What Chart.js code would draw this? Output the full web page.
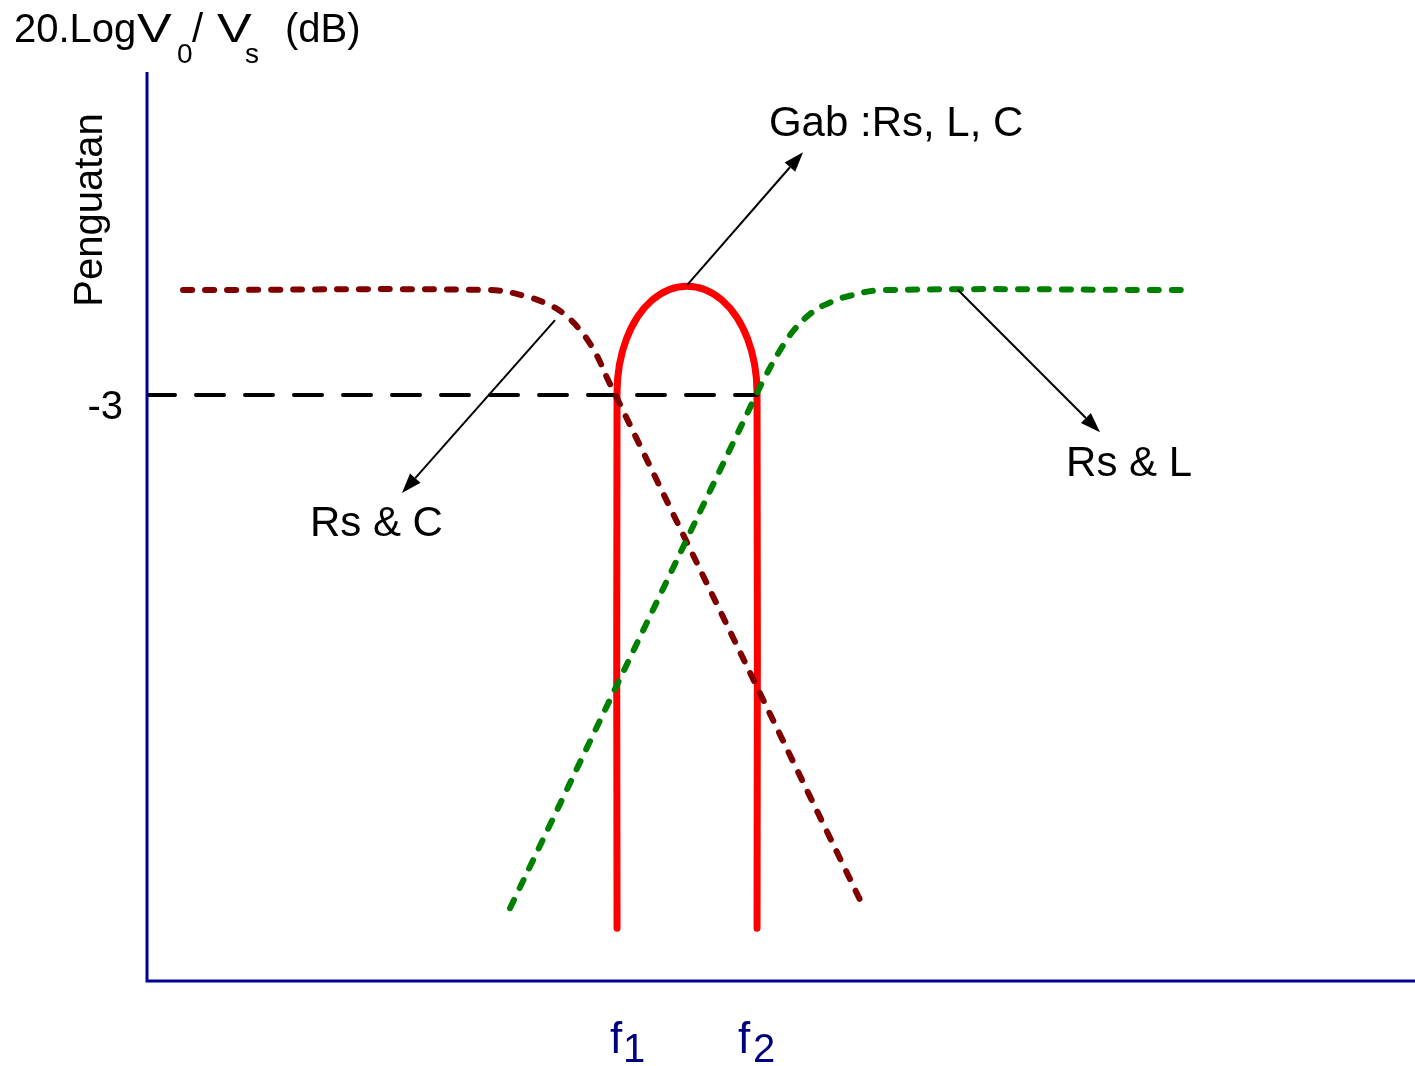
<!DOCTYPE html>
<html>
<head>
<meta charset="utf-8">
<script src="https://cdn.jsdelivr.net/npm/chart.js@4.4.1/dist/chart.umd.min.js"></script>
<style>
  html, body { margin: 0; padding: 0; background: #fff; }
  #wrap { width: 1415px; height: 1066px; position: relative; }
</style>
</head>
<body>
<div id="wrap"><canvas id="bodeChart"></canvas></div>
<script>
// frequency axis (arbitrary units) and gain axis (dB)
var X_MIN = 0, X_MAX = 100;
var Y_MIN = -19.74, Y_MAX = 6.23;

var f1 = 37.07;
var f2 = 48.11;
var cutoffDb = -3;
var redBottomDb = -18.23;

// Rs & C (low pass)
var rsC_x = [2.84, 27.05, 29.81, 31.78, 32.81, 34.15, 35.33, 36.36, 37.07, 56.62];
var rsC_y = [0, 0, -0.17, -0.43, -0.66, -1.14, -1.77, -2.57, -3.09, -17.71];

// Rs & L (high pass)
var rsL_x = [28.63, 48.11, 48.82, 49.84, 51.03, 52.37, 53.41, 55.36, 58.12, 82.41];
var rsL_y = [-17.66, -2.94, -2.43, -1.77, -1.14, -0.66, -0.43, -0.17, 0, 0];

// Gab : Rs, L, C (band pass)
var gab_x = [f1, 37.07, 37.26, 37.81, 38.68, 39.83, 41.16, 42.59, 44.02, 45.35, 46.5, 47.37, 47.92, 48.11, f2];
var gab_y = [redBottomDb, -2.91, -2.13, -1.4, -0.77, -0.29, 0.01, 0.11, 0.01, -0.29, -0.77, -1.4, -2.13, -2.91, redBottomDb];

// -3 dB reference
var ref_x = [X_MIN, f2];
var ref_y = [cutoffDb, cutoffDb];

// annotations: arrow tail -> head, and label anchor
var notes = [
  { text: "Gab :Rs, L, C", tail: [42.59, 0.14], head: [51.74, 3.94], at: [49.05, 4.4] },
  { text: "Rs & C", tail: [32.18, -0.86], head: [20.11, -5.8], at: [12.85, -7.03] },
  { text: "Rs & L", tail: [63.96, 0], head: [75.16, -4.06], at: [72.48, -5.31] }
];

var FONT = '"Liberation Sans", Arial, sans-serif';
var AXIS_COLOR = "#000096";

function toPoints(xs, ys) {
  return xs.map(function (x, i) { return { x: x, y: ys[i] }; });
}

function arrow(ctx, x0, y0, x1, y1) {
  var ang = Math.atan2(y1 - y0, x1 - x0);
  var len = 20, half = 7;
  var bx = x1 - len * Math.cos(ang), by = y1 - len * Math.sin(ang);
  ctx.beginPath();
  ctx.moveTo(x0, y0);
  ctx.lineTo(bx, by);
  ctx.stroke();
  ctx.beginPath();
  ctx.moveTo(x1, y1);
  ctx.lineTo(bx + half * Math.sin(ang), by - half * Math.cos(ang));
  ctx.lineTo(bx - half * Math.sin(ang), by + half * Math.cos(ang));
  ctx.closePath();
  ctx.fill();
}

// wide V like the original drawing
function wideV(ctx, x, y) {
  ctx.save();
  ctx.translate(x, y);
  ctx.scale(1.3, 1);
  ctx.fillText("V", 0, 0);
  ctx.restore();
}

var decorPlugin = {
  id: "decor",
  afterDatasetsDraw: function (chart) {
    var ctx = chart.ctx;
    var xs = chart.scales.x, ys = chart.scales.y;
    var left = xs.getPixelForValue(X_MIN), bottom = ys.getPixelForValue(Y_MIN);
    var top = ys.getPixelForValue(Y_MAX), right = xs.getPixelForValue(X_MAX);
    ctx.save();

    // axes
    ctx.strokeStyle = AXIS_COLOR;
    ctx.lineWidth = 3;
    ctx.lineCap = "butt";
    ctx.beginPath();
    ctx.moveTo(left, top);
    ctx.lineTo(left, bottom);
    ctx.lineTo(right, bottom);
    ctx.stroke();

    // arrows + labels
    ctx.strokeStyle = "#000";
    ctx.fillStyle = "#000";
    ctx.lineWidth = 2;
    notes.forEach(function (n) {
      arrow(ctx, xs.getPixelForValue(n.tail[0]), ys.getPixelForValue(n.tail[1]),
        xs.getPixelForValue(n.head[0]), ys.getPixelForValue(n.head[1]));
      ctx.font = "42px " + FONT;
      ctx.textAlign = "left";
      ctx.textBaseline = "alphabetic";
      ctx.fillText(n.text, xs.getPixelForValue(n.at[0]), ys.getPixelForValue(n.at[1]));
    });

    // -3 tick label
    ctx.font = "40px " + FONT;
    ctx.textAlign = "right";
    ctx.fillText("-3", left - 24, ys.getPixelForValue(cutoffDb) + 24);

    // y axis title (rotated)
    ctx.save();
    ctx.translate(102, 210);
    ctx.rotate(-Math.PI / 2);
    ctx.textAlign = "center";
    ctx.font = "40px " + FONT;
    ctx.fillText("Penguatan", 0, 0);
    ctx.restore();

    // top title 20.LogV0/Vs (dB)
    ctx.textAlign = "left";
    ctx.font = "40px " + FONT;
    ctx.fillText("20.Log", 14, 42);
    wideV(ctx, 137, 42);
    ctx.fillText("/", 192, 42);
    wideV(ctx, 217, 42);
    ctx.fillText("(dB)", 285, 42);
    ctx.font = "28px " + FONT;
    ctx.fillText("0", 177, 63);
    ctx.fillText("s", 245, 63);

    // f1, f2
    ctx.fillStyle = "#000080";
    var fl = [[f1, "1", -7, 6], [f2, "2", -19, -4]];
    fl.forEach(function (f) {
      var px = xs.getPixelForValue(f[0]);
      ctx.font = "44px " + FONT;
      ctx.fillText("f", px + f[2], 1053);
      ctx.font = "40px " + FONT;
      ctx.fillText(f[1], px + f[3], 1062);
    });

    ctx.restore();
  }
};

var ctx = document.getElementById("bodeChart").getContext("2d");
new Chart(ctx, {
  type: "scatter",
  data: {
    datasets: [
      {
        label: "Rs & L",
        data: toPoints(rsL_x, rsL_y),
        showLine: true,
        borderColor: "#008000",
        borderWidth: 6,
        borderDash: [9, 13],
        borderCapStyle: "round",
        tension: 0.4,
        pointRadius: 0,
        order: 1
      },
      {
        label: "Rs & C",
        data: toPoints(rsC_x, rsC_y),
        showLine: true,
        borderColor: "#800000",
        borderWidth: 6,
        borderDash: [9, 13],
        borderCapStyle: "round",
        tension: 0.4,
        pointRadius: 0,
        order: 2
      },
      {
        label: "-3 dB",
        data: toPoints(ref_x, ref_y),
        showLine: true,
        borderColor: "#000",
        borderWidth: 4,
        borderDash: [28, 21],
        borderCapStyle: "round",
        pointRadius: 0,
        order: 3
      },
      {
        label: "Gab",
        data: toPoints(gab_x, gab_y),
        showLine: true,
        borderColor: "#ff0000",
        borderWidth: 7,
        borderCapStyle: "round",
        borderJoinStyle: "round",
        tension: 0.4,
        pointRadius: 0,
        order: 4
      }
    ]
  },
  options: {
    responsive: true,
    maintainAspectRatio: false,
    animation: false,
    devicePixelRatio: 1,
    layout: { padding: { left: 147, top: 72, right: 0, bottom: 85 } },
    plugins: { legend: { display: false }, tooltip: { enabled: false } },
    scales: {
      x: { type: "linear", min: X_MIN, max: X_MAX, display: false },
      y: { type: "linear", min: Y_MIN, max: Y_MAX, display: false }
    }
  },
  plugins: [decorPlugin]
});
</script>
</body>
</html>
